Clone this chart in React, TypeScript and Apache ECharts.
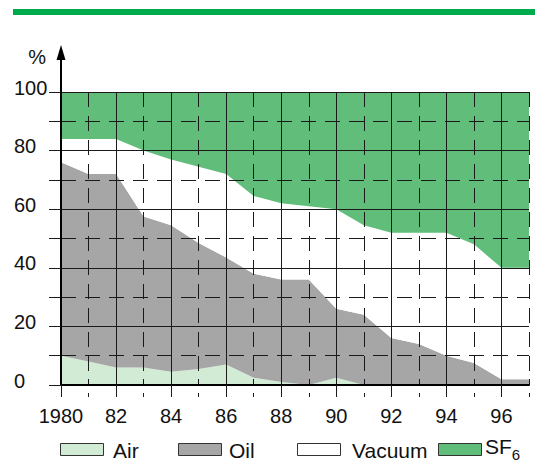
import React, { useEffect, useRef } from "react";
import * as echarts from "echarts";

const years = ["1980", "1981", "1982", "1983", "1984", "1985", "1986", "1987", "1988", "1989", "1990", "1991", "1992", "1993", "1994", "1995", "1996", "1997"];
const air = [10, 8, 6, 6, 4.5, 5.5, 7, 2.5, 1, 0, 2.5, 0, 0, 0, 0, 0, 0, 0];
const oil = [66, 64, 66, 51.5, 50, 43, 36.5, 35.5, 35, 36, 23.5, 24, 16, 14, 10, 7.5, 2, 2];
const vacuum = [8, 12, 12, 22.5, 22.5, 26, 28.5, 26.5, 26, 25, 34, 30.5, 36, 38, 42, 40.5, 38, 38];
const sf6 = [16, 16, 16, 20, 23, 25.5, 28, 35.5, 38, 39, 40, 45.5, 48, 48, 48, 52, 60, 60];
const seriesNames = ["Air", "Oil", "Vacuum", "SF6"];
const seriesColors = ["#d2ebd4", "#a6a6a6", "#ffffff", "#60bd7a"];
const legendBoxX = [60, 178, 297, 438];
const legendTextX = [113, 229, 352, 485];

const FONT = "'Liberation Sans', Arial, sans-serif";
const GRID = "#1a1a1a";
const DASH = [15, 9];
const isEven = (i: number) => i % 2 === 0;
const isOdd = (i: number) => i % 2 === 1;

export default function App() {
  const ref = useRef<HTMLDivElement>(null);
  useEffect(() => {
    if (!ref.current) return;
    const chart = echarts.init(ref.current, null, { renderer: "svg" });
    const values = [air, oil, vacuum, sf6];
    const series = seriesNames.map((name, i) => ({
      name,
      type: "line",
      stack: "total",
      xAxisIndex: 0,
      yAxisIndex: 0,
      symbol: "none",
      showSymbol: false,
      lineStyle: { width: 0 },
      itemStyle: { color: seriesColors[i] },
      areaStyle: { color: seriesColors[i], opacity: 1 },
      data: values[i],
      z: 2,
    }));
    const lastIndex = years.length - 1;
    chart.setOption({
      animation: false,
      backgroundColor: "#ffffff",
      textStyle: { fontFamily: FONT },
      grid: { left: 61, right: 19, top: 92, bottom: 86, containLabel: false },
      xAxis: [
        {
          type: "category",
          data: years,
          boundaryGap: false,
          position: "bottom",
          z: 10,
          axisLine: { show: true, onZero: false, lineStyle: { color: "#000", width: 2 } },
          axisTick: { show: true, length: 12, interval: (i: number) => isEven(i), lineStyle: { color: GRID, width: 1 } },
          axisLabel: {
            fontSize: 20,
            fontFamily: FONT,
            color: "#111",
            margin: 21,
            interval: (i: number) => isEven(i) && i < lastIndex,
            formatter: (v: string) => (v === "1980" ? "1980" : v.slice(2)),
          },
          splitLine: { show: true, interval: (i: number) => isEven(i), lineStyle: { color: GRID, width: 1, type: "solid" } },
        },
        {
          type: "category",
          data: years,
          boundaryGap: false,
          position: "top",
          z: 9,
          axisLine: { show: false },
          axisTick: { show: true, length: 6, interval: 0, lineStyle: { color: GRID, width: 1 } },
          axisLabel: { show: false },
          splitLine: { show: true, interval: (i: number) => isOdd(i), lineStyle: { color: GRID, width: 1, type: DASH } },
        },
        {
          type: "category",
          data: years,
          boundaryGap: false,
          position: "bottom",
          z: 9,
          axisLine: { show: false },
          axisTick: { show: true, length: 12, interval: (i: number) => isOdd(i), lineStyle: { color: GRID, width: 1, type: [0, 8, 4, 100] } },
          axisLabel: { show: false },
          splitLine: { show: false },
        },
      ],
      yAxis: [
        {
          type: "value",
          min: 0,
          max: 100,
          interval: 20,
          position: "left",
          z: 10,
          name: "%",
          nameLocation: "end",
          nameGap: 35,
          nameTextStyle: {
            fontSize: 20,
            fontFamily: FONT,
            color: "#111",
            align: "right",
            verticalAlign: "middle",
            padding: [0, 15, 0, 0],
          },
          axisLine: { show: true, lineStyle: { color: "#000", width: 2 } },
          axisTick: { show: true, length: 12, lineStyle: { color: GRID, width: 1 } },
          axisLabel: {
            fontSize: 20,
            fontFamily: FONT,
            color: "#111",
            margin: 47,
            align: "left",
            verticalAlign: "bottom",
            lineHeight: 9,
          },
          splitLine: { show: true, lineStyle: { color: GRID, width: 1, type: "solid" } },
        },
        {
          type: "value",
          min: 0,
          max: 100,
          interval: 10,
          position: "left",
          z: 9,
          axisLine: { show: false },
          axisTick: { show: true, length: 12, lineStyle: { color: GRID, width: 1 } },
          axisLabel: { show: false },
          splitLine: { show: true, lineStyle: { color: GRID, width: 1, type: DASH } },
        },
      ],
      series,
    });
    const p = chart.convertToPixel({ xAxisIndex: 0, yAxisIndex: 0 }, [0, 100]) as number[];
    const ax = p[0];
    const ay = p[1];
    const legendGraphics: any[] = [];
    seriesNames.forEach((name, i) => {
      legendGraphics.push({
        type: "rect",
        shape: { x: legendBoxX[i] + 0.5, y: 443.5, width: 43, height: 12 },
        style: { fill: seriesColors[i], stroke: "#333", lineWidth: 1 },
        silent: true,
      });
      legendGraphics.push({
        type: "text",
        x: legendTextX[i],
        y: 450,
        style: {
          text: name === "SF6" ? "{a|SF}{b|6}" : name,
          fontSize: 21,
          fontFamily: FONT,
          fill: "#111",
          verticalAlign: "middle",
          rich: {
            a: { fontSize: 21, fontFamily: FONT, fill: "#111", padding: [0, 0, 8, 0] },
            b: { fontSize: 15, fontFamily: FONT, fill: "#111", padding: [8, 0, 0, 0] },
          },
        },
        silent: true,
      });
    });
    chart.setOption({
      graphic: [
        {
          type: "rect",
          shape: { x: 13, y: 9, width: 522, height: 6 },
          style: { fill: "#00ab4e" },
          silent: true,
        },
        {
          type: "line",
          shape: { x1: ax, y1: ay, x2: ax, y2: ay - 34 },
          style: { stroke: "#000", lineWidth: 2 },
          z: 100,
          silent: true,
        },
        {
          type: "polygon",
          shape: { points: [[ax, ay - 47], [ax - 4.5, ay - 32], [ax + 4.5, ay - 32]] },
          style: { fill: "#000" },
          z: 100,
          silent: true,
        },
        ...legendGraphics,
      ],
    });
    return () => chart.dispose();
  }, []);
  return (
    <div
      ref={ref}
      style={{ position: "fixed", left: 0, top: 0, width: 548, height: 471 }}
    />
  );
}
